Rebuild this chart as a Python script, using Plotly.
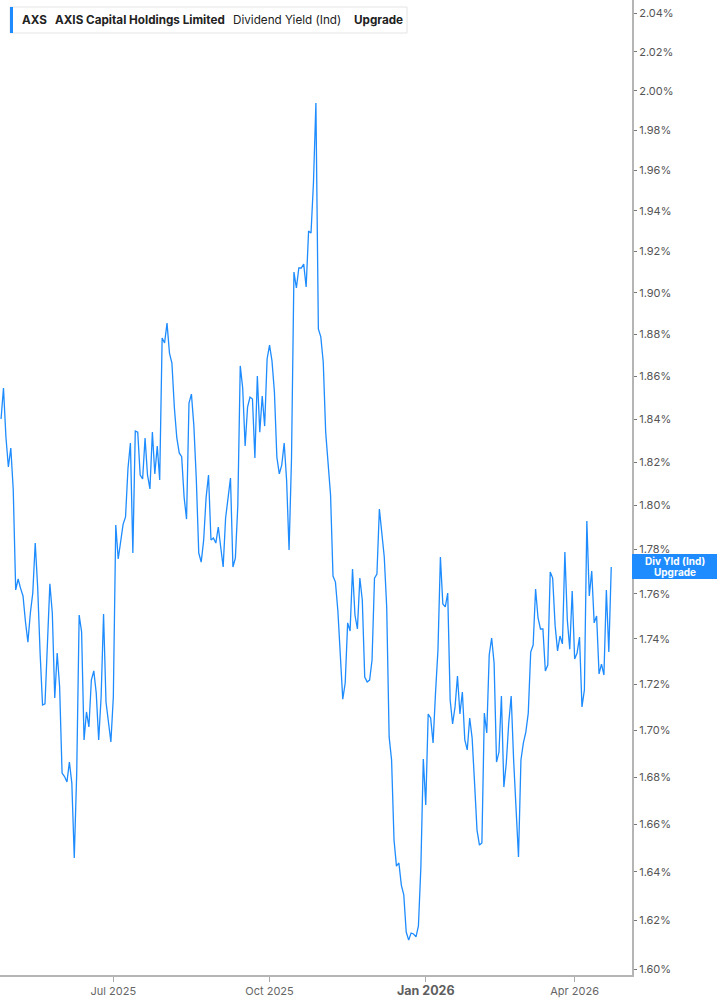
import math
import pandas as pd
import plotly.graph_objects as go
from pandas.tseries.offsets import CustomBusinessDay

# ---- data ----
first_date = "2025-04-24"
market_holidays = ["2025-05-26", "2025-06-19", "2025-07-04", "2025-09-01", "2025-11-27",
                   "2025-12-25", "2026-01-01", "2026-01-19", "2026-02-16", "2026-04-03"]

div_yield = [  # Dividend Yield (Ind), %
    1.8400, 1.8546, 1.8316, 1.8177, 1.8265, 1.8071, 1.7618, 1.7667, 1.7625, 1.7591,
    1.7476, 1.7386, 1.7514, 1.7604, 1.7829, 1.7631, 1.7338, 1.7110, 1.7115, 1.7395,
    1.7645, 1.7515, 1.7141, 1.7338, 1.7189, 1.6817, 1.6802, 1.6779, 1.6864, 1.6774,
    1.6458, 1.6817, 1.7506, 1.7431, 1.6959, 1.7080, 1.7015, 1.7219, 1.7259, 1.7162,
    1.6959, 1.7145, 1.7511, 1.7123, 1.7032, 1.6950, 1.7145, 1.7911, 1.7757, 1.7838,
    1.7914, 1.7948, 1.8170, 1.8288, 1.7784, 1.8344, 1.8339, 1.8140, 1.8122, 1.8311,
    1.8140, 1.8076, 1.8339, 1.8145, 1.8274, 1.8117, 1.8783, 1.8759, 1.8854, 1.8711,
    1.8664, 1.8454, 1.8313, 1.8242, 1.8225, 1.8038, 1.7938, 1.8475, 1.8517, 1.8368,
    1.8121, 1.7784, 1.7743, 1.7841, 1.8035, 1.8140, 1.7843, 1.7852, 1.7829, 1.7902,
    1.7807, 1.7721, 1.7943, 1.8044, 1.8126, 1.7721, 1.7761, 1.8000, 1.8650, 1.8546,
    1.8274, 1.8456, 1.8503, 1.8494, 1.8219, 1.8602, 1.8339, 1.8508, 1.8367, 1.8683,
    1.8749, 1.8674, 1.8527, 1.8223, 1.8145, 1.8186, 1.8288, 1.8115, 1.7798, 1.8216,
    1.9100, 1.9023, 1.9120, 1.9120, 1.9139, 1.9028, 1.9300, 1.9291, 1.9540, 1.9939,
    1.8826, 1.8788, 1.8669, 1.8339, 1.8168, 1.8048, 1.7680, 1.7653, 1.7524, 1.7298,
    1.7136, 1.7206, 1.7471, 1.7435, 1.7712, 1.7506, 1.7444, 1.7671, 1.7573, 1.7232,
    1.7211, 1.7219, 1.7307, 1.7671, 1.7689, 1.7984, 1.7857, 1.7766, 1.7542, 1.6972,
    1.6873, 1.6533, 1.6424, 1.6437, 1.6345, 1.6304, 1.6151, 1.6118, 1.6147, 1.6143,
    1.6131, 1.6176, 1.6420, 1.6877, 1.6681, 1.7071, 1.7054, 1.6946, 1.7162, 1.7351,
    1.7766, 1.7555, 1.7542, 1.7604, 1.7132, 1.7028, 1.7102, 1.7237, 1.7071, 1.7167,
    1.6959, 1.6916, 1.7054, 1.6967, 1.6774, 1.6575, 1.6512, 1.6521, 1.7075, 1.6989,
    1.7329, 1.7404, 1.7294, 1.6864, 1.6907, 1.7149, 1.6757, 1.6860, 1.7032, 1.7149,
    1.6873, 1.6660, 1.6462, 1.6873, 1.6946, 1.6993, 1.7075, 1.7342, 1.7373, 1.7622,
    1.7493, 1.7444, 1.7444, 1.7259, 1.7285, 1.7698, 1.7671, 1.7460, 1.7347, 1.7413,
    1.7378, 1.7789, 1.7484, 1.7355, 1.7613, 1.7311, 1.7338, 1.7408, 1.7102, 1.7176,
    1.7929, 1.7591, 1.7703, 1.7471, 1.7502, 1.7246, 1.7289, 1.7241, 1.7618, 1.7342,
    1.7721,
]

x_tick_dates = ["2025-07-01", "2025-10-01", "2026-01-02", "2026-04-01"]
x_tick_labels = ["Jul 2025", "Oct 2025",
                 "<span style='font-size:12.5px;color:#5e5e5e'><b>Jan 2026</b></span>", "Apr 2026"]
y_tick_values = [1.60, 1.62, 1.64, 1.66, 1.68, 1.70, 1.72, 1.74, 1.76, 1.78, 1.80, 1.82,
                 1.84, 1.86, 1.88, 1.90, 1.92, 1.94, 1.96, 1.98, 2.00, 2.02, 2.04]
y_tick_labels = [f"{v:.2f}%" for v in y_tick_values]

# trading-day calendar (one point per session)
cbd = CustomBusinessDay(holidays=market_holidays)
dates = pd.date_range(first_date, periods=len(div_yield), freq=cbd)
date_labels = [d.strftime("%Y-%m-%d") for d in dates]

# ---- figure ----
W, H = 717, 1005
ML, MR, MT, MB = 0, 85, 0, 30
PW, PH = W - ML - MR, H - MT - MB
def px(xp):
    return xp / PW
def py(yp):
    return 1 - yp / PH

BLUE = "#1e8cff"

fig = go.Figure(go.Scatter(x=date_labels, y=div_yield, mode="lines",
                           line=dict(color=BLUE, width=1.3), hoverinfo="x+y"))

fig.update_layout(width=W, height=H, margin=dict(l=ML, r=MR, t=MT, b=MB, autoexpand=False),
                  plot_bgcolor="white", paper_bgcolor="white", showlegend=False)

fig.update_xaxes(type="category", range=[-0.43, 258.5], automargin=False,
                 tickvals=x_tick_dates, ticktext=x_tick_labels,
                 ticks="outside", ticklen=5, tickwidth=1, tickcolor="#aaaaaa",
                 showline=True, linecolor="#b5b5b5", linewidth=2, showgrid=False, zeroline=False,
                 tickfont=dict(family="Inter", size=11, color="#666666"))

fig.update_yaxes(type="log", side="right", range=[0.203458, 0.311065], automargin=False,
                 tickvals=y_tick_values, ticktext=y_tick_labels,
                 ticks="outside", ticklen=3, tickwidth=1, tickcolor="#777777",
                 showline=True, linecolor="#b5b5b5", linewidth=2, showgrid=False, zeroline=False,
                 tickfont=dict(family="Inter", size=11, color="#555555"))

# header box
fig.add_shape(type="rect", xref="paper", yref="paper", x0=px(10), x1=px(407), y0=py(33), y1=py(7),
              line=dict(color="#e4e4e4", width=1), fillcolor="white", layer="above")
fig.add_shape(type="rect", xref="paper", yref="paper", x0=px(10), x1=px(13), y0=py(33), y1=py(7),
              line=dict(width=0), fillcolor=BLUE, layer="above")
header = [(20, "<b>AXS</b>"), (53, "<b>AXIS Capital Holdings Limited</b>"),
          (231, "Dividend Yield (Ind)"), (352, "<b>Upgrade</b>")]
for xp, txt in header:
    fig.add_annotation(xref="paper", yref="paper", x=px(xp), y=py(20.5), xanchor="left", yanchor="middle",
                       text=txt, showarrow=False, font=dict(family="Inter", size=11.7, color="#222222"))

# last value label (box + two lines)
last_y = math.log10(div_yield[-1])
fig.add_annotation(xref="paper", yref="y", x=1.0, y=last_y, xanchor="left", yanchor="middle",
                   text=" ", showarrow=False, width=85, height=25, bgcolor=BLUE,
                   borderpad=0, borderwidth=0, font=dict(family="Inter", size=10, color=BLUE))
for dy, txt in [(5.8, "<b>Div Yld (Ind)</b>"), (-5.8, "<b>Upgrade</b>")]:
    fig.add_annotation(xref="paper", yref="y", x=(1.0 + W / PW) / 2, y=last_y, yshift=dy,
                       xanchor="center", yanchor="middle", text=txt, showarrow=False,
                       font=dict(family="Inter", size=10, color="white"))

fig.write_html("out.html", config={"displayModeBar": False},
               post_script="document.body.style.margin='0px';document.body.style.overflow='hidden';")
